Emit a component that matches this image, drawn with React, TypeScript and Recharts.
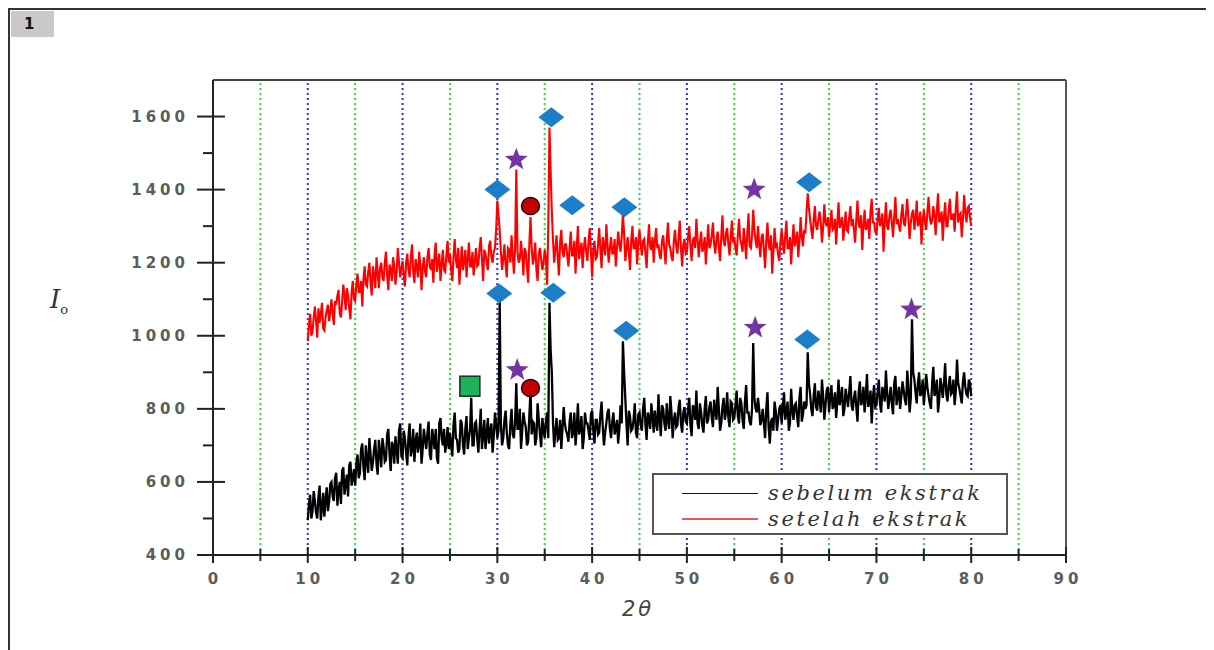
import React from "react";
import {
  ComposedChart,
  Line,
  Scatter,
  XAxis,
  YAxis,
  ReferenceLine,
} from "recharts";

// 2θ sampling grid: start and step of the recorded patterns
const START_2THETA = 10;
const STEP_2THETA = 0.25;
const HALF_OFFSET = 0.125;

// "sebelum ekstrak" (black) intensities at 10°, 10.25° ... 80°
const sebelumValues = [
  495, 565, 520, 548, 500, 590, 530, 505, 585, 545,
  600, 548, 625, 575, 540, 640, 595, 560, 655, 610,
  590, 675, 625, 705, 605, 660, 720, 630, 690, 650,
  715, 640, 695, 660, 745, 630, 700, 725, 650, 760,
  665, 720, 645, 760, 690, 655, 735, 705, 650, 745,
  690, 765, 660, 720, 745, 650, 775, 700, 680, 750,
  735, 670, 790, 715, 690, 760, 675, 780, 720, 830,
  700, 765, 680, 800, 725, 690, 775, 740, 680, 790,
  720, 1095, 700, 770, 735, 690, 800, 720, 870, 745,
  690, 790, 750, 710, 850, 765, 700, 815, 730, 775,
  720, 790, 1090, 900, 695, 775, 720, 690, 805, 740,
  710, 790, 735, 700, 815, 745, 690, 790, 760, 715,
  795, 705, 770, 735, 820, 700, 760, 800, 720, 790,
  745, 705, 810, 985, 830, 700, 780, 745, 815, 720,
  790, 740, 830, 715, 775, 815, 735, 760, 840, 725,
  800, 740, 770, 835, 720, 790, 755, 825, 735, 805,
  760, 830, 725, 800, 850, 745, 790, 735, 835, 770,
  820, 750, 795, 860, 740, 805, 770, 845, 750, 815,
  775, 850, 760, 815, 745, 865, 790, 755, 980, 800,
  830, 755, 800, 720, 845, 705, 775, 820, 740, 800,
  760, 845, 790, 740, 855, 770, 815, 750, 860, 785,
  800, 955, 840, 780, 870, 795, 825, 880, 770, 850,
  790, 865, 810, 775, 880, 830, 780, 855, 805, 890,
  795, 850, 765, 875, 820, 790, 895, 815, 760, 865,
  810, 880, 790, 845, 905, 800, 860, 785, 890, 835,
  800, 875, 825, 905, 790, 1045, 880, 815, 900, 845,
  810, 895, 835, 800, 915, 850, 790, 885, 830, 925,
  820, 890, 845, 810, 935, 855, 815, 900, 840, 880,
  835,
];
// "sebelum ekstrak" intensities at the in-between angles 10.125°, 10.375° ... 79.875°
const sebelumHalfValues = [
  540, 500, 575, 515, 560, 495, 570, 550, 520, 595,
  560, 610, 535, 600, 630, 565, 620, 645, 590, 635,
  650, 610, 690, 640, 700, 625, 675, 655, 715, 620,
  680, 720, 655, 730, 675, 710, 650, 690, 740, 670,
  740, 680, 725, 670, 745, 710, 680, 760, 690, 715,
  735, 675, 745, 690, 665, 760, 720, 745, 705, 690,
  700, 755, 720, 680, 770, 700, 745, 690, 745, 700,
  760, 720, 745, 690, 770, 730, 705, 760, 725, 760,
  740, 760, 720, 795, 700, 760, 730, 765, 745, 800,
  740, 765, 700, 780, 730, 760, 720, 770, 695, 745,
  765, 720, 960, 760, 740, 715, 770, 745, 760, 730,
  765, 720, 790, 745, 730, 780, 720, 760, 740, 785,
  740, 770, 730, 785, 750, 735, 790, 745, 765, 730,
  770, 745, 760, 900, 760, 795, 740, 770, 735, 785,
  755, 800, 760, 790, 745, 780, 795, 740, 770, 810,
  760, 815, 745, 790, 770, 750, 805, 760, 790, 765,
  800, 755, 810, 770, 760, 815, 755, 800, 760, 805,
  775, 825, 770, 800, 760, 830, 790, 775, 820, 770,
  810, 780, 830, 770, 820, 790, 765, 800, 830, 790,
  800, 770, 760, 800, 750, 765, 740, 795, 770, 810,
  805, 770, 820, 760, 795, 810, 780, 830, 765, 820,
  810, 870, 800, 835, 805, 850, 790, 835, 810, 860,
  830, 800, 845, 820, 810, 860, 800, 830, 845, 810,
  830, 805, 845, 810, 860, 835, 805, 850, 830, 805,
  845, 815, 860, 820, 845, 830, 815, 870, 810, 860,
  835, 850, 810, 860, 830, 900, 845, 870, 835, 880,
  850, 860, 815, 870, 835, 880, 825, 860, 870, 840,
  865, 840, 880, 850, 870, 835, 875, 860, 835, 870,
];

// "setelah ekstrak" (red) intensities at 10°, 10.25° ... 80°
const setelahValues = [
  985, 1060, 1010, 1080, 995, 1035, 1090, 1015, 1070, 1040,
  1100, 1030, 1085, 1125, 1050, 1140, 1070, 1110, 1045, 1150,
  1095, 1170, 1120, 1080, 1190, 1135, 1200, 1110, 1165, 1215,
  1130, 1200, 1150, 1230, 1125, 1180, 1215, 1140, 1240, 1160,
  1205, 1135, 1225, 1160, 1250, 1145, 1190, 1230, 1125, 1215,
  1160, 1240, 1180, 1145, 1255, 1200, 1150, 1235, 1175, 1260,
  1225, 1150, 1265, 1185, 1140, 1245, 1205, 1160, 1255, 1190,
  1165, 1240, 1195, 1270, 1150, 1225, 1180, 1260, 1200, 1240,
  1370, 1290, 1180, 1250, 1160, 1235, 1275, 1170, 1455, 1200,
  1260, 1165, 1230, 1145, 1325, 1195, 1255, 1150, 1240, 1180,
  1235, 1140, 1570, 1340, 1200, 1275, 1165, 1290, 1215, 1250,
  1190, 1285, 1220, 1170, 1300, 1235, 1185, 1270, 1205, 1295,
  1160, 1260, 1215, 1295, 1185, 1245, 1305, 1200, 1270, 1225,
  1190, 1285, 1230, 1335, 1205, 1270, 1180, 1300, 1240, 1195,
  1290, 1220, 1265, 1185, 1305, 1235, 1200, 1295, 1250, 1210,
  1275, 1195, 1310, 1240, 1205, 1290, 1225, 1315, 1190, 1265,
  1230, 1300, 1205, 1270, 1320, 1215, 1285, 1240, 1195, 1305,
  1250, 1310, 1225, 1285, 1205, 1330, 1245, 1295, 1220, 1315,
  1270, 1220, 1320, 1250, 1295, 1210, 1335, 1240, 1345, 1260,
  1300, 1215, 1280, 1185, 1310, 1235, 1170, 1295, 1250, 1205,
  1290, 1225, 1315, 1240, 1195, 1305, 1260, 1215, 1325, 1245,
  1280, 1390, 1320, 1265, 1355, 1290, 1340, 1255, 1360, 1300,
  1270, 1345, 1295, 1250, 1365, 1310, 1260, 1340, 1285, 1355,
  1320, 1255, 1370, 1295, 1235, 1345, 1300, 1265, 1375, 1310,
  1275, 1350, 1310, 1230, 1365, 1290, 1345, 1270, 1380, 1320,
  1285, 1360, 1300, 1375, 1265, 1335, 1290, 1370, 1310, 1250,
  1345, 1290, 1380, 1305, 1355, 1275, 1390, 1320, 1260, 1365,
  1300, 1375, 1320, 1285, 1395, 1330, 1270, 1385, 1310, 1355,
  1300,
];
// "setelah ekstrak" intensities at the in-between angles 10.125° ... 79.875°
const setelahHalfValues = [
  1030, 1000, 1050, 1040, 1075, 1060, 1020, 1050, 1085, 1065,
  1060, 1095, 1110, 1060, 1095, 1110, 1130, 1075, 1120, 1100,
  1140, 1120, 1150, 1155, 1140, 1175, 1145, 1190, 1130, 1175,
  1185, 1160, 1200, 1165, 1195, 1150, 1190, 1175, 1200, 1185,
  1165, 1200, 1180, 1215, 1175, 1210, 1160, 1195, 1185, 1175,
  1215, 1190, 1210, 1220, 1175, 1225, 1195, 1180, 1220, 1200,
  1180, 1215, 1210, 1240, 1195, 1180, 1235, 1210, 1190, 1230,
  1205, 1190, 1240, 1210, 1235, 1200, 1245, 1215, 1230, 1290,
  1330, 1230, 1210, 1195, 1240, 1200, 1220, 1240, 1230, 1210,
  1220, 1240, 1190, 1250, 1240, 1215, 1180, 1225, 1210, 1200,
  1210, 1300, 1450, 1260, 1240, 1215, 1255, 1230, 1250, 1220,
  1240, 1220, 1260, 1240, 1210, 1255, 1240, 1230, 1260, 1230,
  1235, 1210, 1250, 1235, 1270, 1220, 1250, 1240, 1225, 1265,
  1240, 1250, 1270, 1280, 1235, 1230, 1260, 1240, 1270, 1255,
  1250, 1260, 1225, 1255, 1245, 1270, 1260, 1240, 1220, 1260,
  1235, 1260, 1250, 1215, 1260, 1245, 1270, 1240, 1250, 1225,
  1270, 1245, 1260, 1240, 1265, 1255, 1230, 1270, 1250, 1240,
  1275, 1250, 1265, 1240, 1270, 1260, 1280, 1250, 1270, 1255,
  1240, 1275, 1265, 1230, 1260, 1280, 1245, 1275, 1290, 1240,
  1250, 1270, 1235, 1260, 1250, 1275, 1230, 1245, 1220, 1260,
  1250, 1275, 1240, 1270, 1255, 1245, 1285, 1260, 1270, 1290,
  1340, 1350, 1290, 1315, 1300, 1320, 1310, 1295, 1310, 1325,
  1305, 1290, 1320, 1310, 1295, 1325, 1300, 1290, 1325, 1300,
  1290, 1320, 1305, 1330, 1300, 1290, 1320, 1340, 1310, 1285,
  1320, 1300, 1335, 1310, 1300, 1330, 1310, 1325, 1305, 1300,
  1330, 1310, 1335, 1320, 1310, 1345, 1320, 1300, 1340, 1315,
  1310, 1340, 1325, 1315, 1330, 1345, 1310, 1340, 1325, 1300,
  1345, 1320, 1335, 1350, 1310, 1335, 1320, 1340, 1350, 1325,
];

// Phase markers (2θ, intensity)
const diamondMarks = [
  { x: 30.0, y: 1400 },
  { x: 35.7, y: 1598 },
  { x: 37.9, y: 1357 },
  { x: 43.4, y: 1352 },
  { x: 62.9, y: 1420 },
  { x: 30.2, y: 1116 },
  { x: 35.9, y: 1118 },
  { x: 43.6, y: 1014 },
  { x: 62.7, y: 990 },
];
const starMarks = [
  { x: 32.0, y: 1482 },
  { x: 57.1, y: 1400 },
  { x: 32.1, y: 906 },
  { x: 57.2, y: 1022 },
  { x: 73.7, y: 1072 },
];
const circleMarks = [
  { x: 33.5, y: 1355 },
  { x: 33.5, y: 857 },
];
const squareMarks = [{ x: 27.1, y: 862 }];

// Axis ticks
const xTicks = [0, 5, 10, 15, 20, 25, 30, 35, 40, 45, 50, 55, 60, 65, 70, 75, 80, 85, 90];
const yTicks = [400, 500, 600, 700, 800, 900, 1000, 1100, 1200, 1300, 1400, 1500, 1600];
const blueGrid = [10, 20, 30, 40, 50, 60, 70, 80];
const greenGrid = [5, 15, 25, 35, 45, 55, 65, 75, 85];

const legendLabels = ["sebelum ekstrak", "setelah ekstrak"];

// interleave the whole-step and half-step readings into one ordered pattern
const toPoints = (vals: number[], halfVals: number[]) => {
  const pts: { x: number; y: number }[] = [];
  vals.forEach((v, i) => {
    pts.push({ x: +(START_2THETA + i * STEP_2THETA).toFixed(3), y: v });
    if (i < halfVals.length) {
      pts.push({
        x: +(START_2THETA + HALF_OFFSET + i * STEP_2THETA).toFixed(3),
        y: halfVals[i],
      });
    }
  });
  return pts;
};

const sebelumData = toPoints(sebelumValues, sebelumHalfValues);
const setelahData = toPoints(setelahValues, setelahHalfValues);

// layout constants (chart coordinates)
const AXIS_X = 205;
const AXIS_Y = 547;
const TICK_FONT = {
  fontFamily: "DejaVu Sans",
  fontWeight: "bold" as const,
  fontSize: 15,
  fill: "#5c5c5c",
  letterSpacing: 4,
};

const YTick = (props: any) => {
  const { y, payload } = props;
  const v = payload.value;
  const major = v % 200 === 0;
  return (
    <g>
      <line
        x1={major ? AXIS_X - 16 : AXIS_X - 10}
        x2={major ? AXIS_X + 12 : AXIS_X}
        y1={y}
        y2={y}
        stroke="#222"
        strokeWidth={2}
      />
      {major && (
        <text x={AXIS_X - 24} y={y + 5} textAnchor="end" {...TICK_FONT}>
          {v}
        </text>
      )}
    </g>
  );
};

const XTick = (props: any) => {
  const { x, payload } = props;
  const v = payload.value;
  const major = v % 10 === 0;
  return (
    <g>
      <line
        x1={x}
        x2={x}
        y1={major ? AXIS_Y - 8 : AXIS_Y - 6}
        y2={major ? AXIS_Y + 8 : AXIS_Y + 6}
        stroke="#222"
        strokeWidth={2}
      />
      {major && (
        <text x={x + 2} y={AXIS_Y + 29} textAnchor="middle" {...TICK_FONT}>
          {v}
        </text>
      )}
    </g>
  );
};

const DiamondShape = (props: any) => {
  const { cx, cy } = props;
  return (
    <polygon
      points={`${cx},${cy - 10} ${cx + 13},${cy} ${cx},${cy + 10} ${cx - 13},${cy}`}
      fill="#1c7dc8"
    />
  );
};

const StarShape = (props: any) => {
  const { cx, cy } = props;
  const pts: string[] = [];
  for (let k = 0; k < 10; k++) {
    const r = k % 2 === 0 ? 12 : 5;
    const a = -Math.PI / 2 + (k * Math.PI) / 5;
    pts.push(`${cx + r * Math.cos(a)},${cy + r * Math.sin(a)}`);
  }
  return <polygon points={pts.join(" ")} fill="#7434a6" />;
};

const CircleShape = (props: any) => {
  const { cx, cy } = props;
  return <ellipse cx={cx} cy={cy} rx={9} ry={8.5} fill="#c40000" stroke="#2a0000" strokeWidth={1.5} />;
};

const SquareShape = (props: any) => {
  const { cx, cy } = props;
  return (
    <rect x={cx - 10} y={cy - 10} width={20} height={20} fill="#1db35c" stroke="#1e2e1e" strokeWidth={1.5} />
  );
};

export default function App() {
  return (
    <div style={{ position: "relative", width: 1206, height: 642, background: "#fff" }}>
      {/* outer frame */}
      <div
        style={{
          position: "absolute",
          left: 0,
          top: 0,
          width: 1203,
          height: 650,
          borderTop: "2.5px solid #333",
          borderLeft: "2.5px solid #333",
          borderRight: "1.5px solid #555",
          boxSizing: "border-box",
        }}
      />
      {/* panel number */}
      <div
        style={{
          position: "absolute",
          left: 3,
          top: 3,
          width: 43,
          height: 26,
          background: "#c9c9c9",
          fontFamily: "DejaVu Sans",
          fontWeight: "bold",
          fontSize: 15,
          color: "#111",
          lineHeight: "26px",
          paddingLeft: 13,
          boxSizing: "border-box",
        }}
      >
        1
      </div>
      <div style={{ position: "absolute", left: 0, top: 0 }}>
        <ComposedChart
          width={1206}
          height={642}
          margin={{ top: 72, right: 148, bottom: 55, left: 125 }}
        >
          <XAxis
            type="number"
            dataKey="x"
            domain={[0, 90]}
            ticks={xTicks}
            interval={0}
            allowDataOverflow
            height={40}
            tickLine={false}
            axisLine={{ stroke: "#222", strokeWidth: 2 }}
            tick={<XTick />}
          />
          <YAxis
            type="number"
            dataKey="y"
            domain={[400, 1700]}
            ticks={yTicks}
            interval={0}
            allowDataOverflow
            width={80}
            tickLine={false}
            axisLine={{ stroke: "#222", strokeWidth: 2 }}
            tick={<YTick />}
          />
          {greenGrid.map((g) => (
            <ReferenceLine key={"g" + g} x={g} stroke="#3fd43f" strokeWidth={2} strokeDasharray="2 3" />
          ))}
          {blueGrid.map((g) => (
            <ReferenceLine key={"b" + g} x={g} stroke="#2f2fe0" strokeWidth={2} strokeDasharray="2 3" />
          ))}
          <ReferenceLine y={1700} stroke="#444" strokeWidth={2} />
          <ReferenceLine x={90} stroke="#555" strokeWidth={2} />
          <Line
            data={sebelumData}
            dataKey="y"
            type="linear"
            stroke="#000"
            strokeWidth={2.3}
            dot={false}
            isAnimationActive={false}
          />
          <Line
            data={setelahData}
            dataKey="y"
            type="linear"
            stroke="#ff0000"
            strokeWidth={2.1}
            dot={false}
            isAnimationActive={false}
          />
          <Scatter data={diamondMarks} dataKey="y" shape={<DiamondShape />} isAnimationActive={false} />
          <Scatter data={starMarks} dataKey="y" shape={<StarShape />} isAnimationActive={false} />
          <Scatter data={circleMarks} dataKey="y" shape={<CircleShape />} isAnimationActive={false} />
          <Scatter data={squareMarks} dataKey="y" shape={<SquareShape />} isAnimationActive={false} />
        </ComposedChart>
      </div>
      {/* axis titles */}
      <div
        style={{
          position: "absolute",
          left: 42,
          top: 276,
          fontFamily: "DejaVu Serif",
          fontStyle: "italic",
          fontSize: 26,
          color: "#333",
        }}
      >
        I<sub style={{ fontSize: 13, fontStyle: "normal" }}>o</sub>
      </div>
      <div
        style={{
          position: "absolute",
          left: 614,
          top: 589,
          fontFamily: "DejaVu Sans",
          fontStyle: "italic",
          fontSize: 21,
          color: "#444",
          letterSpacing: 3,
        }}
      >
        2θ
      </div>
      {/* legend */}
      <div
        style={{
          position: "absolute",
          left: 644,
          top: 465,
          width: 356,
          height: 62,
          border: "2px solid #555",
          boxSizing: "border-box",
          background: "#fff",
        }}
      >
        {legendLabels.map((lab, i) => (
          <div
            key={lab}
            style={{
              position: "absolute",
              left: 28,
              top: 6 + i * 26,
              height: 24,
              display: "flex",
              alignItems: "center",
            }}
          >
            <div
              style={{
                width: 76,
                height: 0,
                borderTop: i === 0 ? "1.5px solid #111" : "2px solid #e45a5a",
                marginRight: 10,
              }}
            />
            <span
              style={{
                fontFamily: "DejaVu Serif",
                fontStyle: "italic",
                fontSize: 21,
                color: "#333",
                letterSpacing: 2.6,
                whiteSpace: "nowrap",
              }}
            >
              {lab}
            </span>
          </div>
        ))}
      </div>
    </div>
  );
}
